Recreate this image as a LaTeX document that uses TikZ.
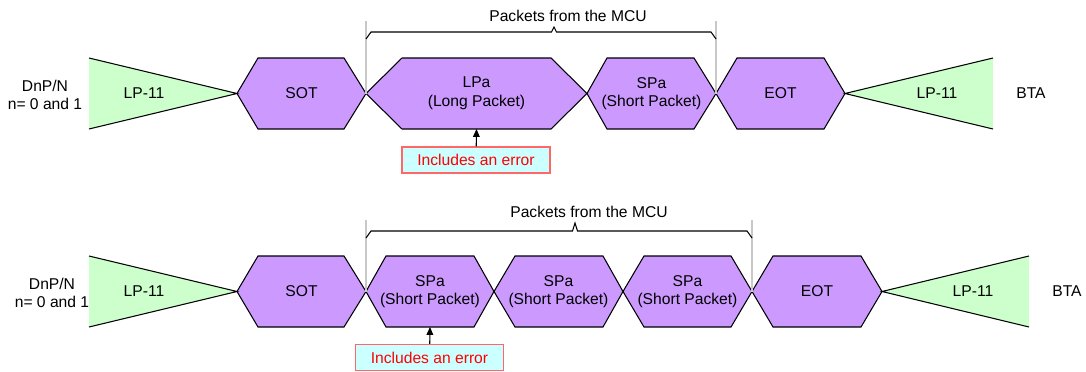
\documentclass[tikz,border=0pt]{standalone}
\usepackage{fontspec}
\setmainfont{Liberation Sans}
\usetikzlibrary{arrows.meta, positioning, calc}
\definecolor{cpurple}{HTML}{CC99FF}
\definecolor{cgreen}{HTML}{CCFFCC}
\definecolor{ccyan}{HTML}{CCFFFF}
\definecolor{cred}{HTML}{FF0000}
\definecolor{cpink}{HTML}{FF6666}
\definecolor{cguide}{HTML}{C8C8C8}
\tikzset{
  every picture/.style={line width=0.6pt},
  pkt/.style={draw=black, fill=cpurple, line join=miter},
  lpfill/.style={fill=cgreen},
  lbl/.style={font=\fontsize{8.9}{10.6}\selectfont, align=center, inner sep=1pt},
  errbox/.style={draw=cpink, fill=ccyan, text=cred, font=\fontsize{8.9}{10.6}\selectfont,
                 minimum width=148*0.02cm, minimum height=26*0.02cm, inner sep=0pt},
  arrow/.style={-{Triangle[length=4.5pt, width=3.8pt]}, draw=black},
  guide/.style={draw=cguide, line width=0.8pt},
}
\begin{document}
\begin{tikzpicture}[x=0.02cm, y=-0.02cm]
  \useasboundingbox (0,0) rectangle (1086,372);
  % packet hexagons: left tip / top left / top right / right tip / centre y / name / text
  \foreach \l/\tl/\tr/\r/\cy/\n/\t in {
      237/258/344/366/93.5/sota/SOT, 366/402/551/587/93.5/lpa/{LPa\\(Long Packet)},
      587/607/694/716/93.5/spa/{SPa\\(Short Packet)}, 716/737/824/845/93.5/eota/EOT,
      237/258/344/366/291.5/sotb/SOT, 366/386/474/494/291.5/spb1/{SPa\\(Short Packet)},
      494/515/603/623/291.5/spb2/{SPa\\(Short Packet)}, 623/644/731/752/291.5/spb3/{SPa\\(Short Packet)},
      752/773/861/882/291.5/eotb/EOT} {
    \draw[pkt] (\l,\cy) -- (\tl,\cy-35.5) -- (\tr,\cy-35.5) -- (\r,\cy) -- (\tr,\cy+35.5) -- (\tl,\cy+35.5) -- cycle;
    \node[lbl] (\n) at ({(\l+\r)/2},\cy) {\t};
    \coordinate (\n-b) at ({(\l+\r)/2},\cy+35.5);
  }
  % LP-11 wedges
  \foreach \w/\a/\cy/\lx/\n in {89/237/93.5/144/lpla, 993/845/93.5/937/lpra, 89/237/291.5/144/lplb, 1029/882/291.5/973/lprb} {
    \fill[lpfill] (\w,\cy-35.5) -- (\a,\cy) -- (\w,\cy+35.5) -- cycle;
    \draw (\w,\cy-35.5) -- (\a,\cy) -- (\w,\cy+35.5);
    \node[lbl] (\n) at (\lx,\cy) {LP-11};
  }
  \node[lbl] (dna) at (45,95) {DnP/N\\n= 0 and 1};
  \node[lbl] (dnb) at (52,293) {DnP/N\\n= 0 and 1};
  \node[lbl] (btaa) at (1031,93.5) {BTA};
  \node[lbl] (btab) at (1067,291.5) {BTA};
  % braces over the packets
  \foreach \xa/\xb/\xm/\yt/\yb/\tip/\n in {366/716/554/32/93.5/27/pkta, 366/752/575/231/291.5/223/pktb} {
    \draw[guide] (\xa,\yt-11) -- (\xa,\yb);
    \draw[guide] (\xb,\yt-11) -- (\xb,\yb);
    \draw (\xa,\yt+7) -- (\xa+5,\yt) -- (\xm-2.5,\yt) -- (\xm,\tip) -- (\xm+2.5,\yt) -- (\xb-5,\yt) -- (\xb,\yt+7);
    \node[lbl] (\n) at ({\xm+14},\tip-11) {Packets from the MCU};
  }
  % error notes
  \node[errbox] (erra) at (476,160) {Includes an error};
  \node[errbox] (errb) at (429.5,357.5) {Includes an error};
  \draw[arrow] (erra) -- (lpa-b);
  \draw[arrow] (errb) -- (spb1-b);
\end{tikzpicture}
\end{document}
